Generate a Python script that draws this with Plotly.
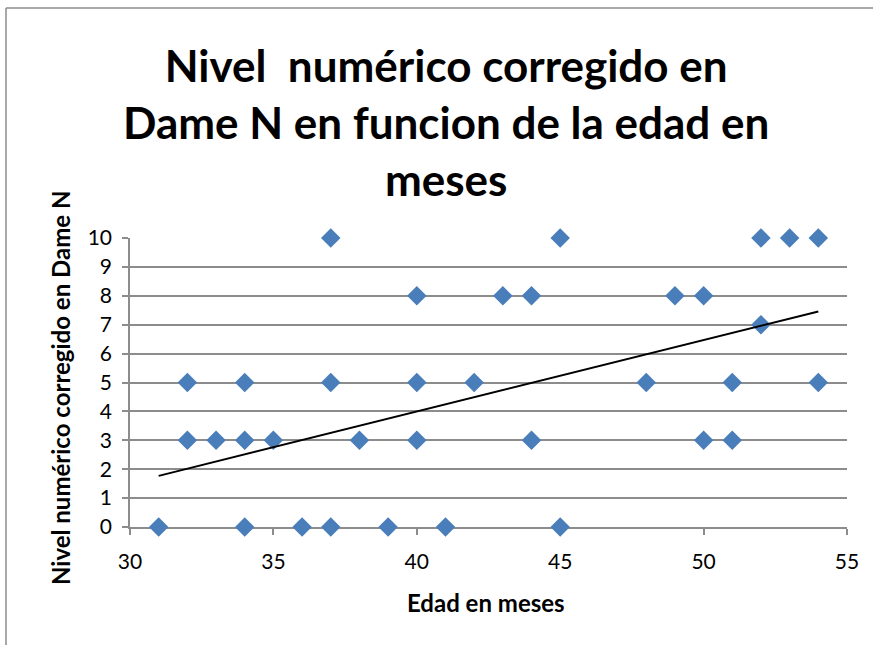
import plotly.graph_objects as go

# Data (age in months, corrected numeric level)
edad_meses = [37, 45, 52, 53, 54,
              40, 43, 44, 49, 50,
              52,
              32, 34, 37, 40, 42, 48, 51, 54,
              32, 33, 34, 35, 38, 40, 44, 50, 51,
              31, 34, 36, 37, 39, 41, 45]
nivel = [10, 10, 10, 10, 10,
         8, 8, 8, 8, 8,
         7,
         5, 5, 5, 5, 5, 5, 5, 5,
         3, 3, 3, 3, 3, 3, 3, 3, 3,
         0, 0, 0, 0, 0, 0, 0]

# Linear trend line (value at min and max age)
trend_x = [31, 54]
trend_y = [1.77, 7.46]

x_ticks = [30, 35, 40, 45, 50, 55]
y_ticks = list(range(0, 11))

title_text = "<b>Nivel&nbsp; numérico corregido en<br>Dame N en funcion de la edad en<br>meses</b>"
x_title = "<b>Edad en meses</b>"
y_title = "<b>Nivel numérico corregido en Dame N</b>"

FONT = "Lato, 'Liberation Sans', sans-serif"
GRID = "#8c8c8c"

W, H = 873, 645
L, R, T, B = 130, 26, 238, 118
PW, PH = W - L - R, H - T - B


def px(xp):
    return (xp - L) / PW


def py(yp):
    return (H - B - yp) / PH


fig = go.Figure()
fig.add_trace(go.Scatter(
    x=edad_meses, y=nivel, mode="markers",
    marker=dict(symbol="diamond", size=15, color="#4a7ebb",
                line=dict(width=0)),
    cliponaxis=False, showlegend=False, hoverinfo="x+y"))
fig.add_trace(go.Scatter(
    x=trend_x, y=trend_y, mode="lines",
    line=dict(color="black", width=2),
    showlegend=False, hoverinfo="skip"))

fig.update_layout(
    width=W, height=H,
    margin=dict(l=L, r=R, t=T, b=B),
    paper_bgcolor="white", plot_bgcolor="white",
    font=dict(family=FONT, color="black"),
    xaxis=dict(
        range=[30, 55], tickvals=x_ticks, showgrid=False,
        showline=True, linecolor=GRID, linewidth=1.5,
        ticks="outside", ticklen=6, tickcolor=GRID, tickwidth=1.5,
        ticklabelstandoff=9,
        tickfont=dict(size=21, family=FONT), zeroline=False),
    yaxis=dict(
        range=[0, 10], tickvals=y_ticks, showgrid=True,
        gridcolor=GRID, gridwidth=1.5,
        showline=True, linecolor=GRID, linewidth=1.5,
        ticks="outside", ticklen=6, tickcolor=GRID, tickwidth=1.5,
        ticklabelstandoff=6,
        tickfont=dict(size=21, family=FONT), zeroline=False),
    annotations=[
        dict(text=title_text, xref="paper", yref="paper",
             x=px(446), y=py(122), xanchor="center", yanchor="middle",
             showarrow=False, font=dict(size=44, family=FONT, color="black")),
        dict(text=x_title, xref="paper", yref="paper",
             x=px(486), y=py(602), xanchor="center", yanchor="middle",
             showarrow=False, font=dict(size=24, family=FONT, color="black")),
        dict(text=y_title, xref="paper", yref="paper", textangle=-90,
             x=px(60), y=py(388), xanchor="center", yanchor="middle",
             showarrow=False, font=dict(size=24, family=FONT, color="black")),
    ],
    shapes=[
        dict(type="line", xref="paper", yref="paper",
             x0=px(6), x1=px(W + 5), y0=py(8), y1=py(8),
             line=dict(color=GRID, width=1.5)),
        dict(type="line", xref="paper", yref="paper",
             x0=px(6), x1=px(6), y0=py(8), y1=py(H + 5),
             line=dict(color=GRID, width=1.5)),
    ],
)
fig.update_xaxes(layer="below traces")
fig.update_yaxes(layer="below traces")

fig.write_html("out.html", config={"displayModeBar": False},
               post_script="document.body.style.margin='0';")
